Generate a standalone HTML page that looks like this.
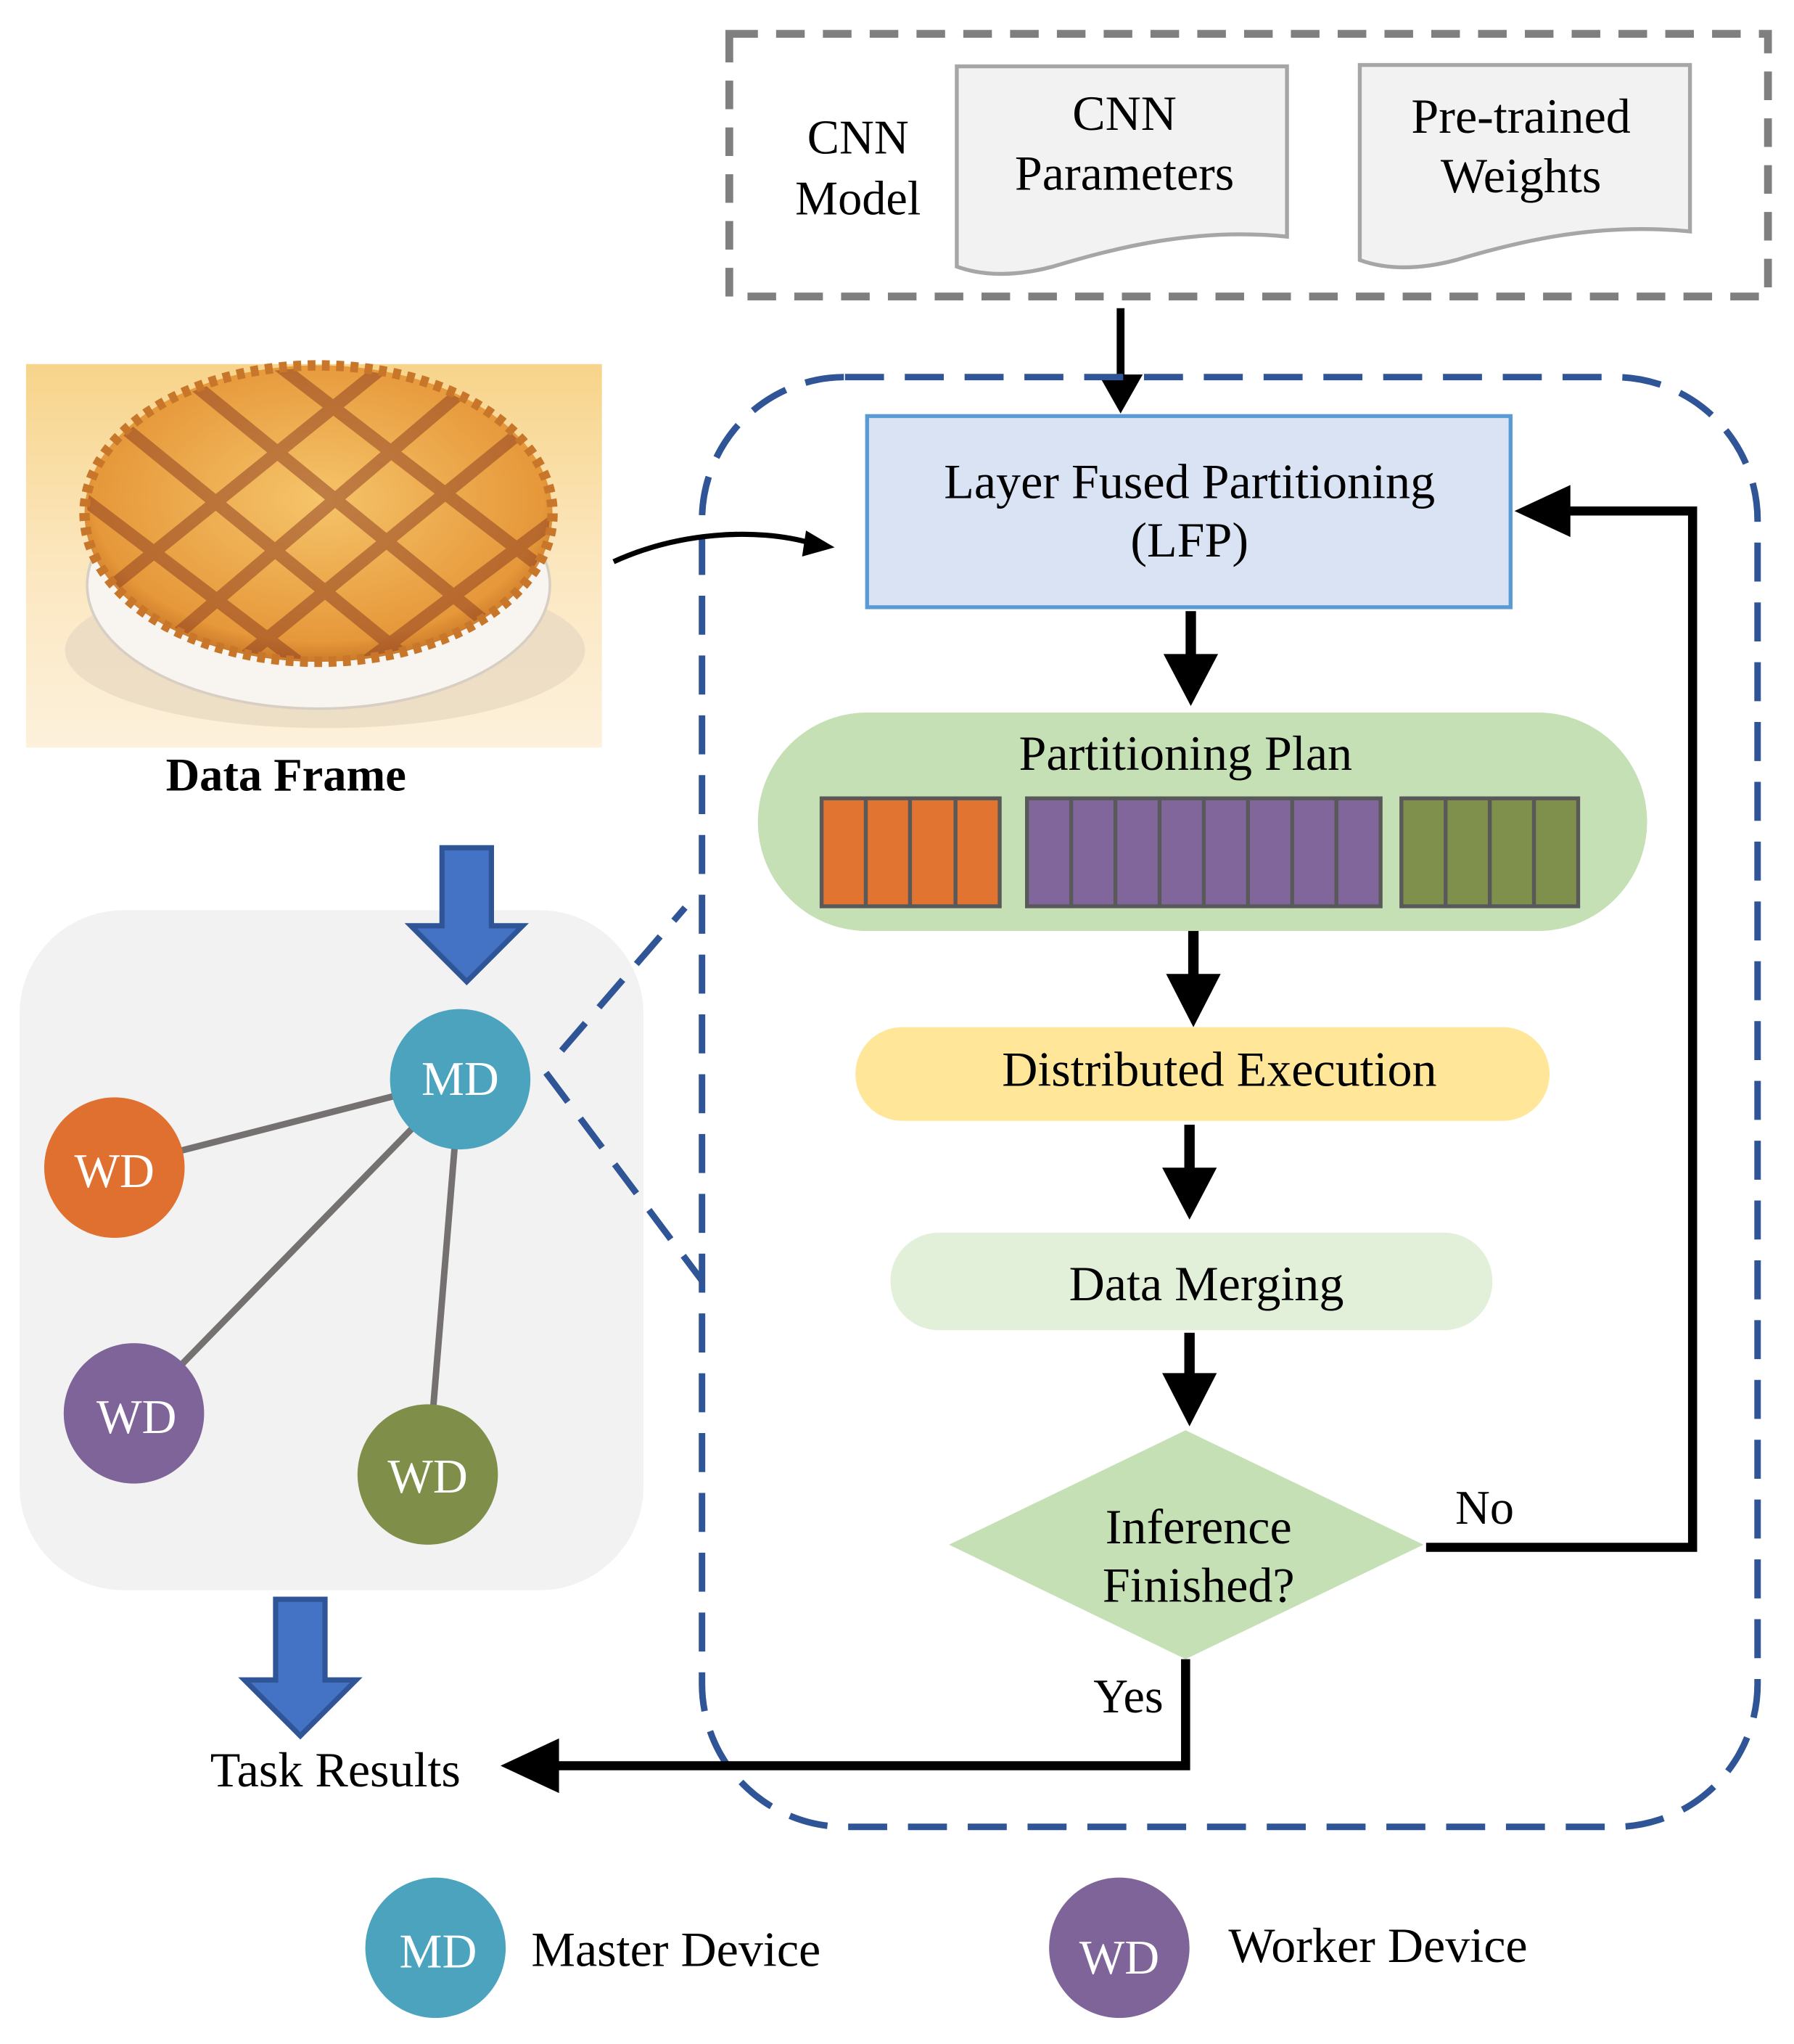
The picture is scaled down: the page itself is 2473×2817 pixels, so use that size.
<!DOCTYPE html>
<html><head><meta charset="utf-8"><style>
html,body{margin:0;padding:0;background:#fff;}
svg{display:block;}
text{font-family:"Liberation Serif",serif;}
</style></head><body>
<svg width="2473" height="2817" viewBox="0 0 1380 1572" xmlns="http://www.w3.org/2000/svg">
<defs>
<linearGradient id="bg" x1="0" y1="0" x2="0" y2="1"><stop offset="0" stop-color="#f7d48a"/><stop offset="0.5" stop-color="#fbe6bd"/><stop offset="1" stop-color="#fdf1dc"/></linearGradient>
<radialGradient id="crust" cx="0.5" cy="0.45" r="0.6"><stop offset="0" stop-color="#f6c46a"/><stop offset="0.8" stop-color="#e6983a"/><stop offset="1" stop-color="#b8661e"/></radialGradient>
<clipPath id="pieclip"><ellipse cx="245" cy="395" rx="178" ry="112"/></clipPath>
</defs>

<rect x="561" y="26" width="799" height="202" fill="none" stroke="#7f7f7f" stroke-width="6" stroke-dasharray="22 14"/>
<text x="660" y="118" font-size="37" text-anchor="middle">CNN</text>
<text x="660" y="165" font-size="37" text-anchor="middle">Model</text>
<path d="M736,51 H990 V182 C920,175 860,190 810,205 C780,213 755,212 736,205 Z" fill="#f2f2f2" stroke="#a6a6a6" stroke-width="3"/>
<text x="865" y="100" font-size="38" text-anchor="middle">CNN</text>
<text x="865" y="146" font-size="38" text-anchor="middle">Parameters</text>
<path d="M1046,50 H1300 V178 C1230,171 1170,185 1120,200 C1090,208 1065,207 1046,200 Z" fill="#f2f2f2" stroke="#a6a6a6" stroke-width="3"/>
<text x="1170" y="102" font-size="38" text-anchor="middle">Pre-trained</text>
<text x="1170" y="148" font-size="38" text-anchor="middle">Weights</text>

<line x1="862" y1="237" x2="862" y2="290" stroke="#000" stroke-width="6"/>
<path d="M845,288 L879,288 L862,318 Z" fill="#000"/>

<rect x="540" y="290" width="812" height="1115" rx="110" fill="none" stroke="#2f5597" stroke-width="5" stroke-dasharray="30 16"/>

<rect x="20" y="280" width="443" height="295" fill="url(#bg)"/>
<ellipse cx="250" cy="500" rx="200" ry="60" fill="#e9d9c2" opacity="0.8"/>
<ellipse cx="245" cy="450" rx="178" ry="95" fill="#f8f4ef" stroke="#d8cfc4" stroke-width="2"/>
<ellipse cx="245" cy="395" rx="180" ry="114" fill="url(#crust)"/>
<g clip-path="url(#pieclip)" stroke="#8a3a20" stroke-width="10" opacity="0.5">
<line x1="60" y1="300" x2="330" y2="520"/><line x1="130" y1="280" x2="400" y2="500"/><line x1="200" y1="270" x2="460" y2="470"/><line x1="20" y1="350" x2="270" y2="540"/>
<line x1="440" y1="300" x2="170" y2="520"/><line x1="380" y1="280" x2="110" y2="510"/><line x1="310" y1="270" x2="50" y2="480"/><line x1="480" y1="360" x2="240" y2="540"/>
</g>
<ellipse cx="245" cy="395" rx="180" ry="114" fill="none" stroke="#c8772a" stroke-width="8" stroke-dasharray="6 5"/>
<text x="220" y="608" font-size="36" font-weight="bold" text-anchor="middle">Data Frame</text>

<path d="M472,432 C520,410 580,405 625,418" fill="none" stroke="#000" stroke-width="4"/>
<path d="M620,408 L642,421 L617,428 Z" fill="#000"/>

<rect x="667" y="320" width="495" height="147" fill="#dae3f3" stroke="#5b9bd5" stroke-width="3"/>
<text x="915" y="383" font-size="38" text-anchor="middle">Layer Fused Partitioning</text>
<text x="915" y="428" font-size="38" text-anchor="middle">(LFP)</text>

<g fill="#000">
<rect x="912" y="470" width="8" height="35"/><path d="M895,503 L937,503 L916,543 Z"/>
<rect x="914" y="716" width="8" height="35"/><path d="M897,749 L939,749 L918,790 Z"/>
<rect x="911" y="865" width="8" height="35"/><path d="M894,898 L936,898 L915,938 Z"/>
<rect x="911" y="1025" width="8" height="33"/><path d="M894,1056 L936,1056 L915,1097 Z"/>
</g>

<rect x="583" y="548" width="684" height="168" rx="84" fill="#c5e0b4"/>
<text x="912" y="592" font-size="38" text-anchor="middle">Partitioning Plan</text>
<g stroke="#595959" stroke-width="3">
<rect x="632" y="614" width="137" height="83" fill="#e07430"/>
<line x1="666" y1="614" x2="666" y2="697"/><line x1="700" y1="614" x2="700" y2="697"/><line x1="735" y1="614" x2="735" y2="697"/>
<rect x="790" y="614" width="272" height="83" fill="#80669b"/>
<line x1="824" y1="614" x2="824" y2="697"/><line x1="858" y1="614" x2="858" y2="697"/><line x1="892" y1="614" x2="892" y2="697"/><line x1="926" y1="614" x2="926" y2="697"/><line x1="960" y1="614" x2="960" y2="697"/><line x1="994" y1="614" x2="994" y2="697"/><line x1="1028" y1="614" x2="1028" y2="697"/>
<rect x="1078" y="614" width="136" height="83" fill="#7f8f4c"/>
<line x1="1112" y1="614" x2="1112" y2="697"/><line x1="1146" y1="614" x2="1146" y2="697"/><line x1="1180" y1="614" x2="1180" y2="697"/>
</g>

<rect x="658" y="790" width="534" height="72" rx="36" fill="#ffe699"/>
<text x="938" y="835" font-size="38" text-anchor="middle">Distributed Execution</text>
<rect x="685" y="948" width="463" height="75" rx="37" fill="#e2f0d9"/>
<text x="928" y="1000" font-size="38" text-anchor="middle">Data Merging</text>

<path d="M730,1188 L912,1100 L1095,1188 L912,1276 Z" fill="#c5e0b4"/>
<text x="922" y="1187" font-size="38" text-anchor="middle">Inference</text>
<text x="922" y="1232" font-size="38" text-anchor="middle">Finished?</text>

<polyline points="1097,1190 1302,1190 1302,393 1205,393" fill="none" stroke="#000" stroke-width="7"/>
<path d="M1208,373 L1208,413 L1165,393 Z" fill="#000"/>
<text x="1142" y="1172" font-size="37" text-anchor="middle">No</text>
<polyline points="912,1276 912,1358 428,1358" fill="none" stroke="#000" stroke-width="7"/>
<path d="M430,1337 L430,1379 L385,1358 Z" fill="#000"/>
<text x="868" y="1317" font-size="37" text-anchor="middle">Yes</text>

<rect x="15" y="700" width="480" height="523" rx="80" fill="#f2f2f2"/>
<path d="M340,652 H378 V712 H402 L359,755 L316,712 H340 Z" fill="#4472c4" stroke="#2f5597" stroke-width="4"/>
<g stroke="#767171" stroke-width="5">
<line x1="354" y1="830" x2="88" y2="898"/><line x1="354" y1="830" x2="103" y2="1087"/><line x1="354" y1="830" x2="329" y2="1134"/>
</g>
<g stroke="#2f5597" stroke-width="5" stroke-dasharray="28 16">
<line x1="432" y1="808" x2="527" y2="698"/><line x1="420" y1="825" x2="540" y2="985"/>
</g>
<circle cx="354" cy="830" r="54" fill="#4ba3bd"/>
<circle cx="88" cy="898" r="54" fill="#e07030"/>
<circle cx="103" cy="1087" r="54" fill="#7f6499"/>
<circle cx="329" cy="1134" r="54" fill="#7f8f4a"/>
<g fill="#fff" font-size="37" text-anchor="middle">
<text x="354" y="842">MD</text><text x="88" y="913">WD</text><text x="105" y="1102">WD</text><text x="329" y="1148">WD</text>
</g>
<path d="M212,1230 H250 V1292 H274 L231,1335 L188,1292 H212 Z" fill="#4472c4" stroke="#2f5597" stroke-width="4"/>
<text x="258" y="1374" font-size="38" text-anchor="middle">Task Results</text>

<circle cx="335" cy="1498" r="54" fill="#4ba3bd"/>
<text x="337" y="1513" font-size="37" fill="#fff" text-anchor="middle">MD</text>
<text x="520" y="1512" font-size="38" text-anchor="middle">Master Device</text>
<circle cx="861" cy="1498" r="54" fill="#7f6499"/>
<text x="861" y="1518" font-size="37" fill="#fff" text-anchor="middle">WD</text>
<text x="1060" y="1509" font-size="38" text-anchor="middle">Worker Device</text>
</svg>
</body></html>
